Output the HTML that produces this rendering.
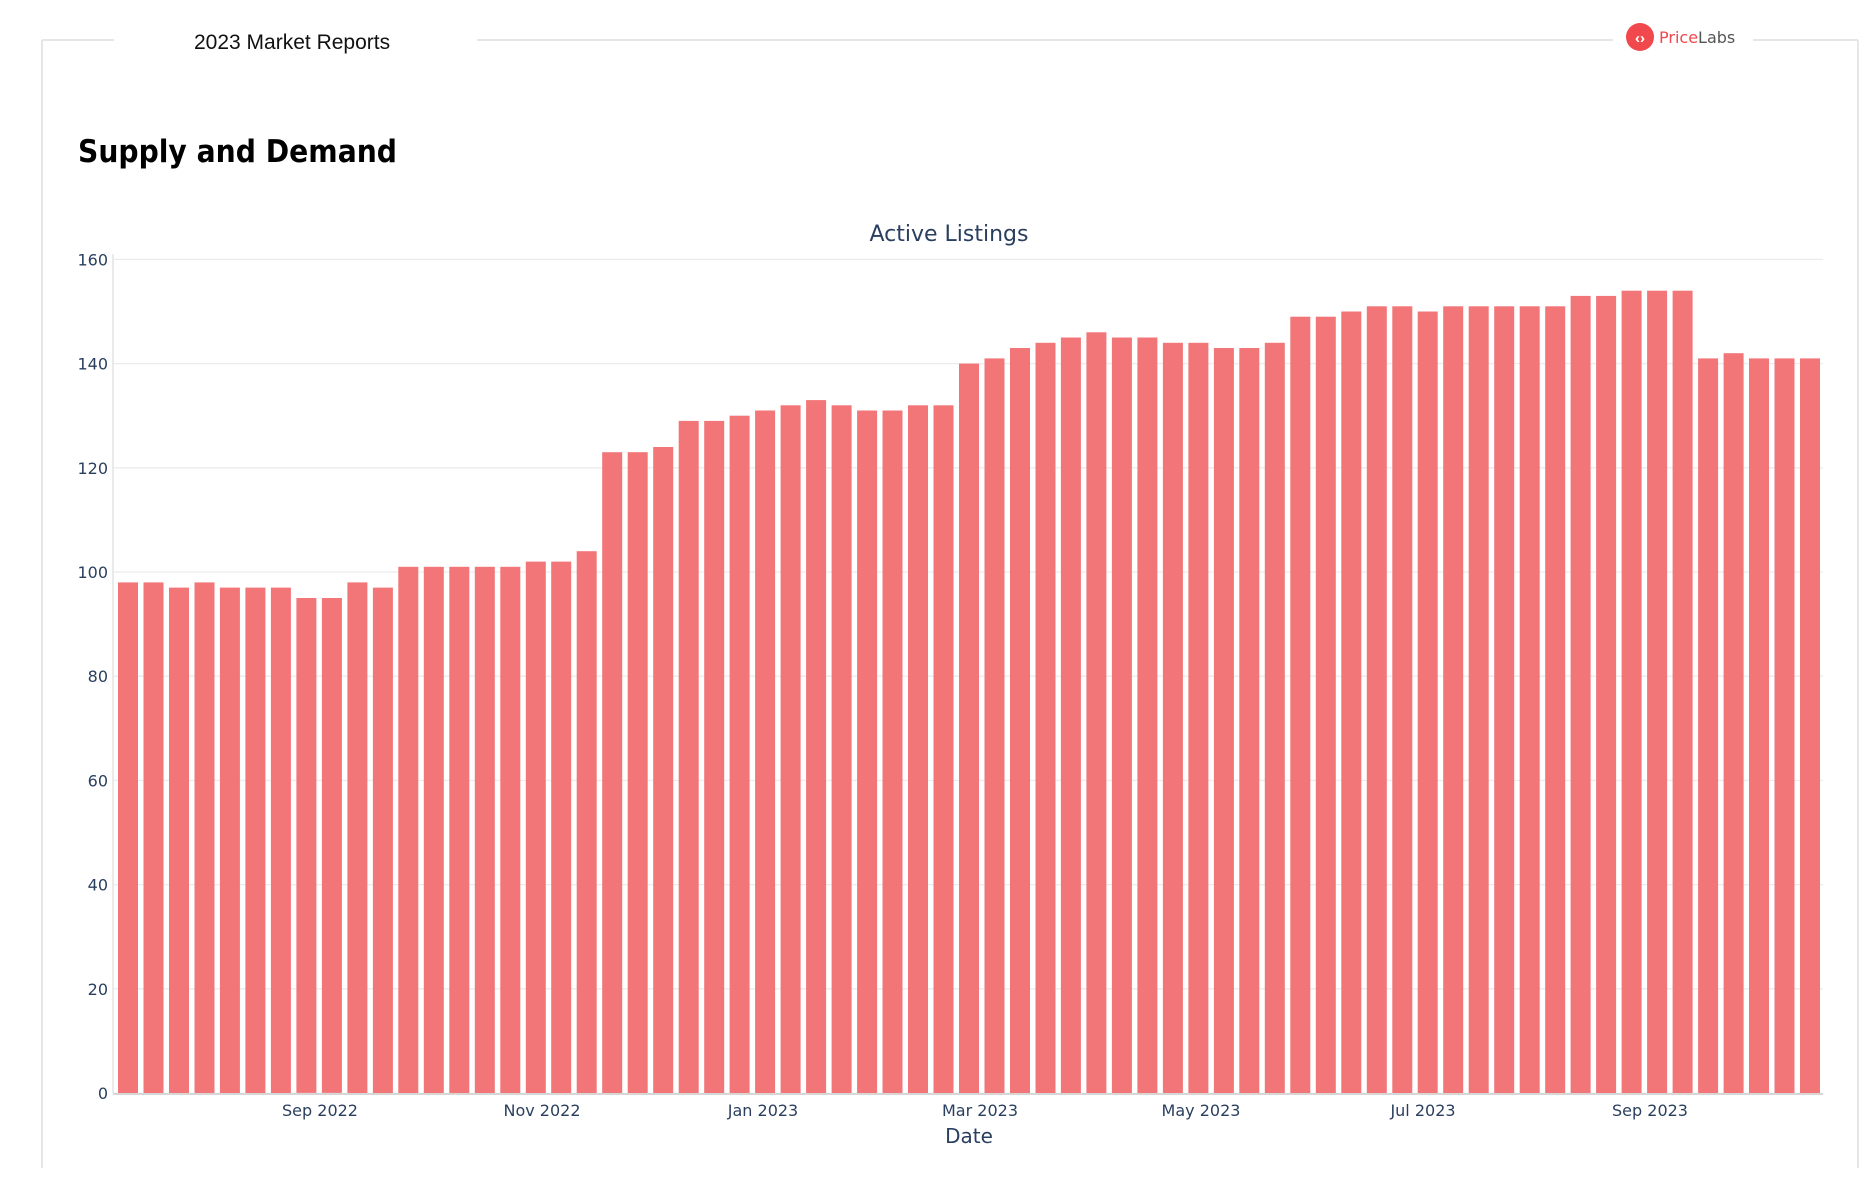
<!DOCTYPE html>
<html><head><meta charset="utf-8"><style>
html,body{margin:0;padding:0;background:#fff;}
svg{display:block}
</style></head><body>
<svg id="s" width="1876" height="1202" xmlns="http://www.w3.org/2000/svg" font-family="'DejaVu Sans', sans-serif">
<rect width="1876" height="1202" fill="#fff"/>
<g stroke="#e6e6e6" stroke-width="2" fill="none">
<line x1="42" y1="40" x2="114" y2="40"/>
<line x1="477" y1="40" x2="1613" y2="40"/>
<line x1="1753" y1="40" x2="1858" y2="40"/>
<line x1="42" y1="40" x2="42" y2="1168"/>
<line x1="1858" y1="40" x2="1858" y2="1168"/>
</g>
<text x="194" y="49" font-family="'Liberation Sans', sans-serif" font-size="21" fill="#111">2023 Market Reports</text>
<circle cx="1640" cy="37" r="14" fill="#f0484c"/>
<text x="1640" y="43" text-anchor="middle" font-family="'Liberation Sans', sans-serif" font-weight="bold" font-size="15" fill="#fff">‹›</text>
<text x="1659" y="43" font-family="'DejaVu Sans', sans-serif" font-size="16"><tspan fill="#f0484c">Price</tspan><tspan fill="#555">Labs</tspan></text>
<text x="78" y="162" font-family="'DejaVu Sans', sans-serif" font-weight="bold" font-size="31" fill="#000" textLength="319" lengthAdjust="spacingAndGlyphs">Supply and Demand</text>
<text x="949" y="241" text-anchor="middle" font-size="22" fill="#2a3f5f">Active Listings</text>
<g id="grid" stroke="#ececec" stroke-width="1.3"></g>
<line x1="113" y1="254" x2="113" y2="1093" stroke="#e4e4e4" stroke-width="1.5"/>
<g id="bars" fill="#f27578"></g>
<line x1="113" y1="1094" x2="1823" y2="1094" stroke="#d6d6d6" stroke-width="2"/>
<g id="yl" font-size="16" fill="#2a3f5f" text-anchor="end"></g>
<g font-size="16" fill="#2a3f5f" text-anchor="middle">
<text x="320" y="1116">Sep 2022</text>
<text x="542" y="1116">Nov 2022</text>
<text x="763" y="1116">Jan 2023</text>
<text x="980" y="1116">Mar 2023</text>
<text x="1201" y="1116">May 2023</text>
<text x="1423" y="1116">Jul 2023</text>
<text x="1650" y="1116">Sep 2023</text>
</g>
<text x="969" y="1143" text-anchor="middle" font-size="20" fill="#2a3f5f">Date</text>
</svg>
<script>
var v=[98,98,97,98,97,97,97,95,95,98,97,101,101,101,101,101,102,102,104,123,123,124,129,129,130,131,132,133,132,131,131,132,132,140,141,143,144,145,146,145,145,144,144,143,143,144,149,149,150,151,151,150,151,151,151,151,151,153,153,154,154,154,141,142,141,141,141];
var ns="http://www.w3.org/2000/svg",k=5.21,y0=1093;
var b=document.getElementById("bars"),g=document.getElementById("grid"),yl=document.getElementById("yl");
v.forEach(function(d,i){var c=128+i*25.485,r=document.createElementNS(ns,"rect");
r.setAttribute("x",(c-10).toFixed(1));r.setAttribute("width","20");
r.setAttribute("y",(y0-d*k).toFixed(1));r.setAttribute("height",(d*k).toFixed(1));b.appendChild(r);});
for(var t=0;t<=160;t+=20){var y=y0-t*k;
if(t>0){var l=document.createElementNS(ns,"line");l.setAttribute("x1",113);l.setAttribute("x2",1823);l.setAttribute("y1",y);l.setAttribute("y2",y);g.appendChild(l);}
var tx=document.createElementNS(ns,"text");tx.setAttribute("x",108);tx.setAttribute("y",y+6);tx.textContent=t;yl.appendChild(tx);}
</script>
</body></html>
